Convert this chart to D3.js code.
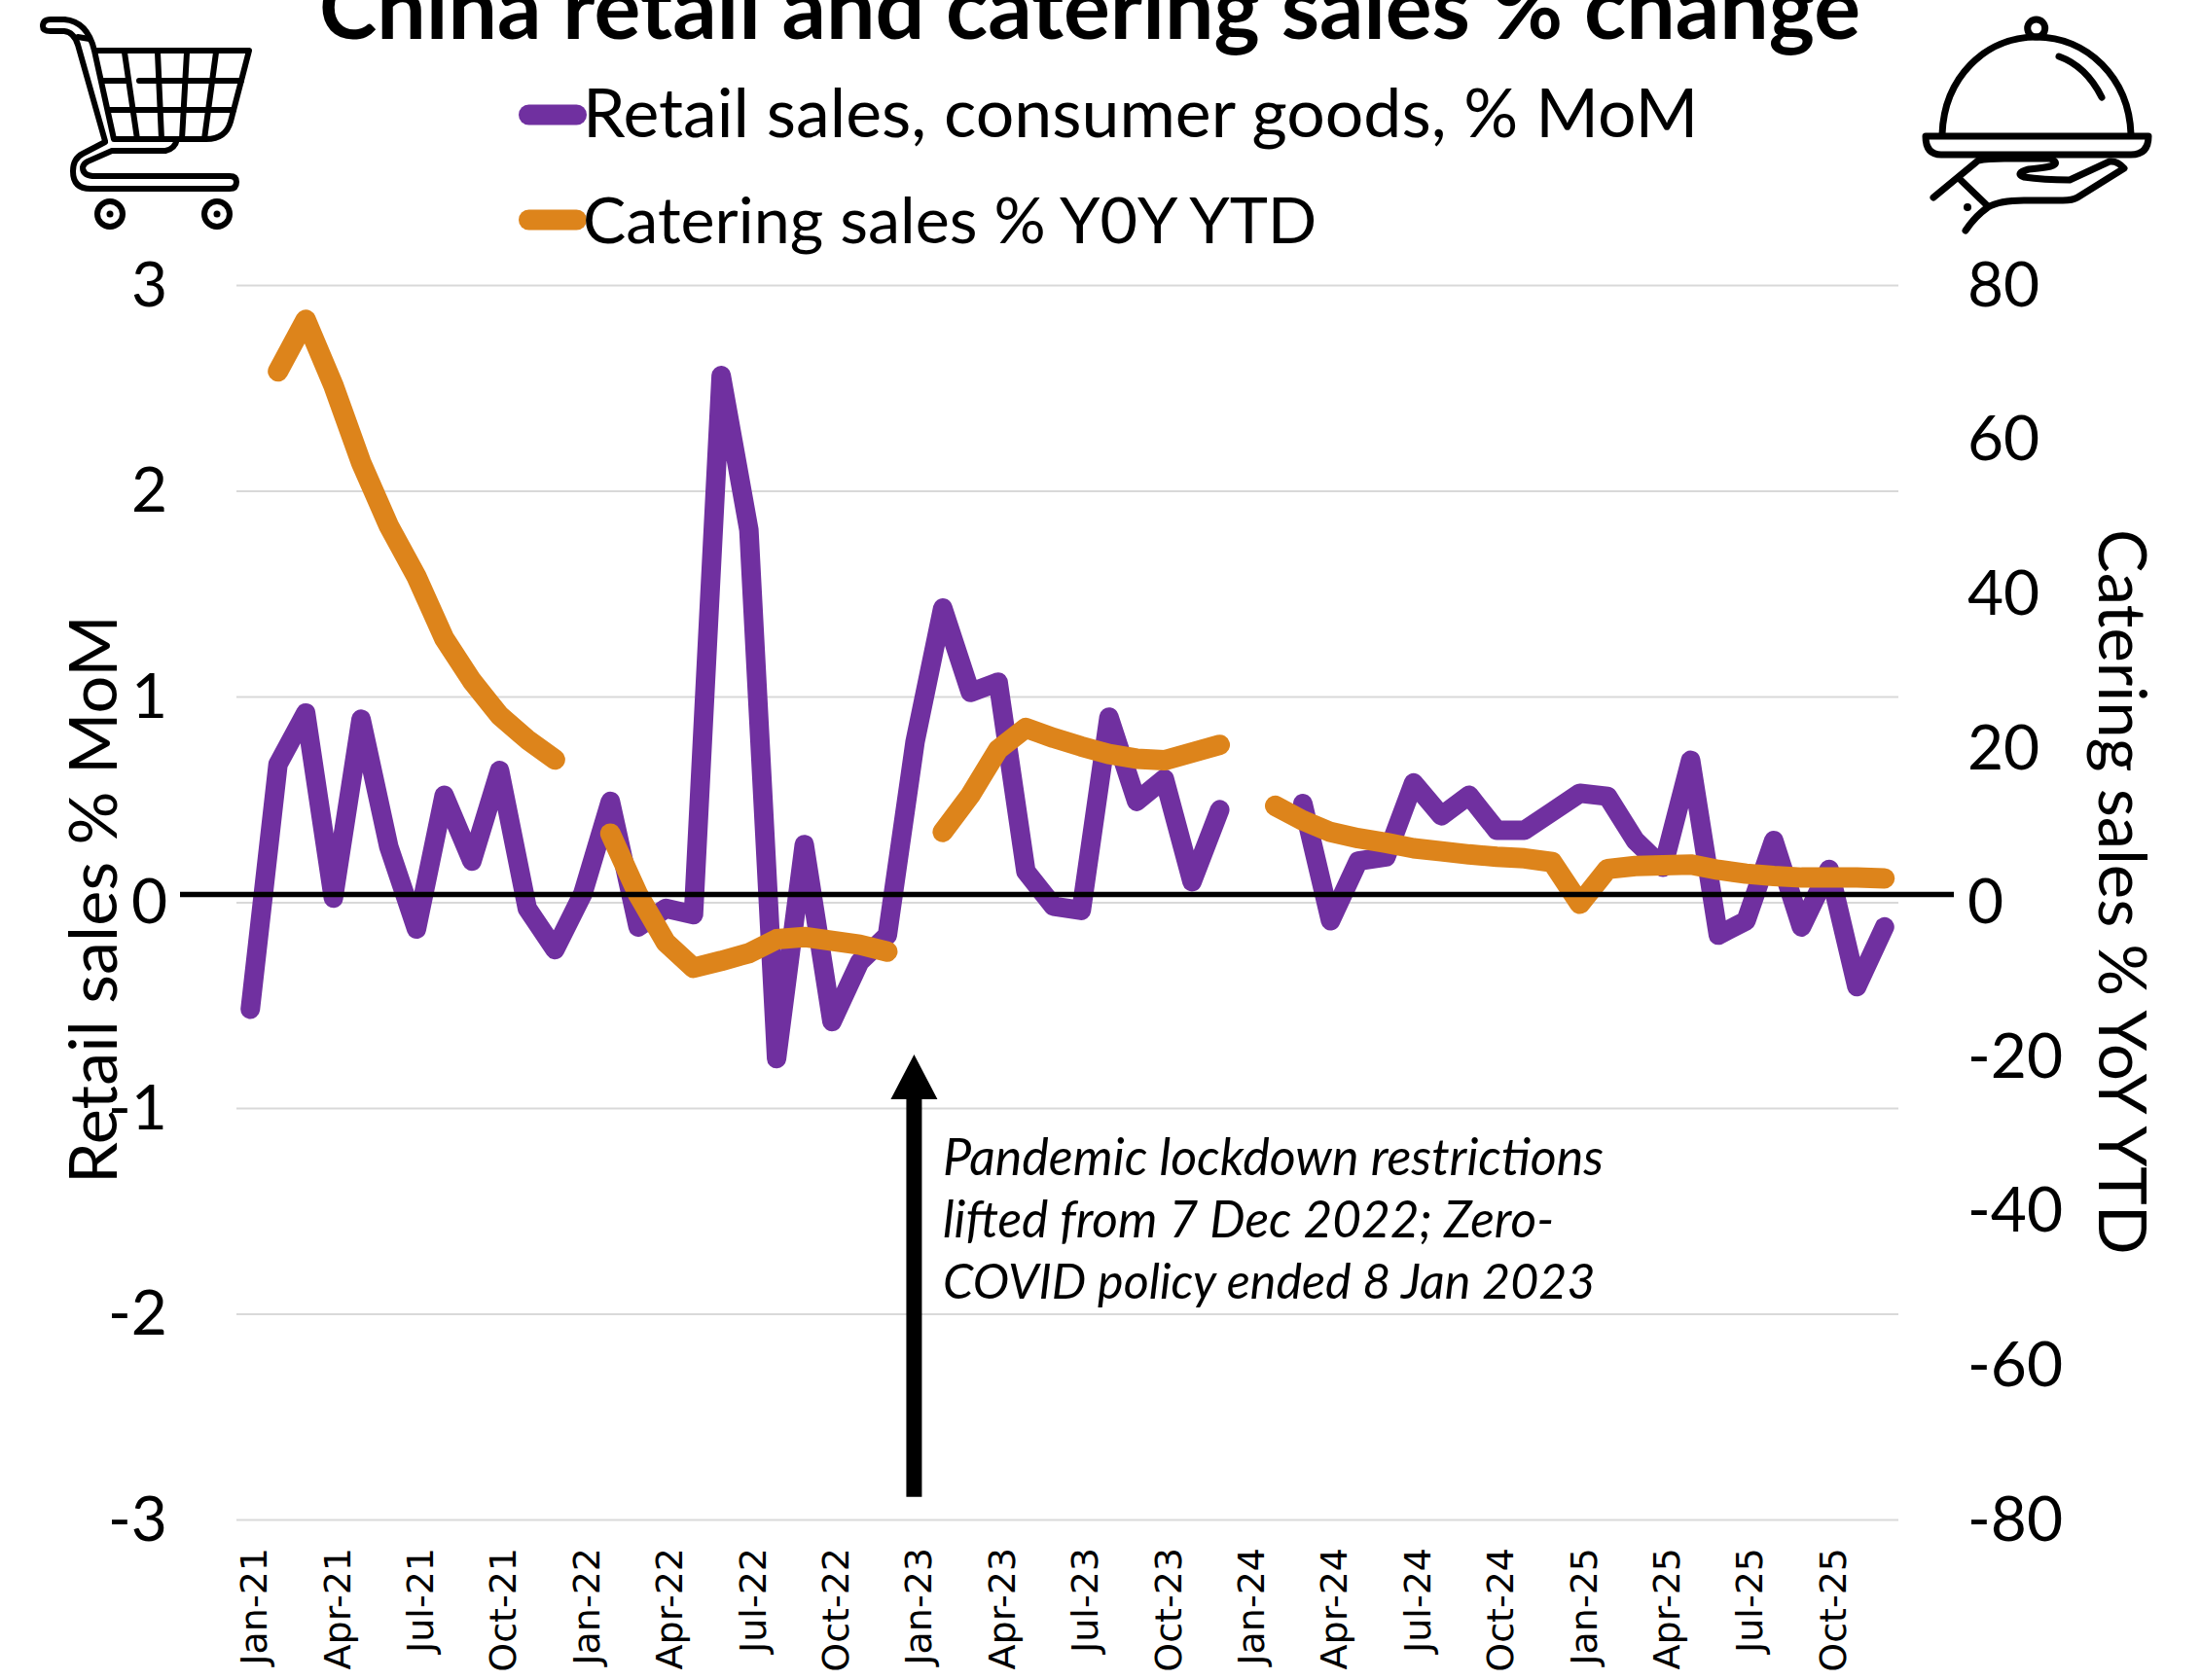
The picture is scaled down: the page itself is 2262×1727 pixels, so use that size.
<!DOCTYPE html>
<html><head><meta charset="utf-8">
<script src="https://cdn.jsdelivr.net/npm/d3@7"></script>
<style>html,body{margin:0;padding:0;background:#fff}svg{display:block}text{fill:#000}</style>
</head><body><div id="c"></div>
<script>
const years = [21,22,23,24,25];
const monthNames = ["Jan","Feb","Mar","Apr","May","Jun","Jul","Aug","Sep","Oct","Nov","Dec"];
const months = years.flatMap(y => monthNames.map(m => `${m}-${y}`));
const tickMonths = months.filter((m,i) => i % 3 === 0);
const retailMoM = [-0.52,0.67,0.92,0.02,0.89,0.27,-0.13,0.52,0.20,0.64,-0.03,-0.23,
  0.04,0.49,-0.12,-0.03,-0.06,2.56,1.81,-0.76,0.28,-0.58,-0.29,-0.16,
  0.78,1.43,1.02,1.07,0.15,-0.02,-0.04,0.90,0.49,0.60,0.10,0.45,
  null,null,0.48,-0.09,0.20,0.22,0.58,0.42,0.52,0.35,0.35,0.44,
  0.53,0.515,0.30,0.17,0.69,-0.16,-0.09,0.30,-0.12,0.16,-0.41,-0.12];
const cateringYoY = [null,68.8,75.5,67,57,48.8,42.2,34.2,28.7,24.2,21.1,18.5,
  null,8.9,1.0,-5.2,-8.5,-7.6,-6.6,-4.8,-4.5,-5.0,-5.5,-6.4,
  null,9.1,13.9,19.8,22.6,21.3,20.2,19.2,18.6,18.4,19.4,20.4,
  null,12.5,10.6,9.1,8.3,7.7,7.0,6.6,6.2,5.9,5.7,5.2,
  -0.2,4.3,4.7,4.8,4.9,4.2,3.7,3.4,3.2,3.2,3.2,3.1];
const leftTicks = [3,2,1,0,-1,-2,-3];
const rightTicks = [80,60,40,20,0,-20,-40,-60,-80];
const titleText = "China retail and catering sales % change";
const legendLabels = ["Retail sales, consumer goods, % MoM","Catering sales % Y0Y YTD"];
const noteLines = ["Pandemic lockdown restrictions","lifted from 7 Dec 2022; Zero-","COVID policy ended 8 Jan 2023"];
const PURPLE="#7030A0", ORANGE="#DD841B", FONT="Lato, Carlito, sans-serif";

const W=2262,H=1727, L=243,R=1951,T=293,B=1562;
const svg=d3.select("#c").append("svg").attr("width",W).attr("height",H).attr("viewBox",`0 0 ${W} ${H}`);
const x=d3.scaleBand().domain(months).range([L,R]);
const cx=m=>x(m)+x.bandwidth()/2;
const yL=d3.scaleLinear().domain([-3,3]).range([B,T]);
const yR=d3.scaleLinear().domain([-80,80]).range([B,T]);

// left axis + grid
const gl=svg.append("g").attr("transform",`translate(${L},0)`)
  .call(d3.axisLeft(yL).tickValues(leftTicks).tickSize(-(R-L)).tickPadding(71).tickFormat(d3.format("d")));
gl.select(".domain").remove();
gl.selectAll("line").attr("stroke","#d9d9d9").attr("stroke-width",2);
gl.selectAll("text").attr("font-family",FONT).attr("font-size",64).attr("dy","0.33em").text(d=>String(d));
// right axis
const gr=svg.append("g").attr("transform",`translate(${R},0)`)
  .call(d3.axisRight(yR).tickValues(rightTicks).tickSize(0).tickPadding(71).tickFormat(d3.format("d")));
gr.select(".domain").remove();
gr.selectAll("text").attr("font-family",FONT).attr("font-size",64).attr("dy","0.33em").text(d=>String(d));
// x axis
const gx=svg.append("g").attr("transform",`translate(0,${B})`)
  .call(d3.axisBottom(x).tickValues(tickMonths).tickSize(0));
gx.select(".domain").remove();
gx.selectAll("text").attr("font-family","'DejaVu Sans'").attr("font-size",38)
  .attr("text-anchor","end").attr("dy",0).attr("y",0)
  .attr("transform","translate(17,29) rotate(-90)");

// series
const lineL=d3.line().defined(d=>d.v!=null).x(d=>cx(d.m)).y(d=>yL(d.v));
const lineR=d3.line().defined(d=>d.v!=null).x(d=>cx(d.m)).y(d=>yR(d.v));
const rows=a=>a.map((v,i)=>({m:months[i],v}));
svg.append("path").attr("d",lineL(rows(retailMoM))).attr("fill","none").attr("stroke",PURPLE)
  .attr("stroke-width",20).attr("stroke-linecap","round").attr("stroke-linejoin","round");
svg.append("path").attr("d",lineR(rows(cateringYoY))).attr("fill","none").attr("stroke",ORANGE)
  .attr("stroke-width",21).attr("stroke-linecap","round").attr("stroke-linejoin","round");
// zero line (sits slightly above the 0 gridline in the source)
svg.append("line").attr("x1",185).attr("x2",2008).attr("y1",919.5).attr("y2",919.5)
  .attr("stroke","#000").attr("stroke-width",5.5);

// title
svg.append("text").attr("x",1120).attr("y",40).attr("text-anchor","middle")
  .attr("font-family",FONT).attr("font-weight",700).attr("font-size",89.6).text(titleText);
// legend
[[legendLabels[0],PURPLE,118,141,69.8],[legendLabels[1],ORANGE,226,250,66.4]].forEach(([t,c,yc,yb,fs])=>{
  svg.append("rect").attr("x",533).attr("y",yc-10.5).attr("width",70).attr("height",21).attr("rx",10.5).attr("fill",c);
  svg.append("text").attr("x",599).attr("y",yb).attr("font-family",FONT).attr("font-size",fs).text(t);
});
// axis titles
svg.append("text").attr("transform","translate(120,1217) rotate(-90)")
  .attr("font-family",FONT).attr("font-size",68.5).text("Retail sales % MoM");
svg.append("text").attr("transform","translate(2157,544) rotate(90)")
  .attr("font-family",FONT).attr("font-size",67).text("Catering sales % YoY YTD");
// annotation
const ax=cx("Jan-23")-1, tip=yL(-0.74);
svg.append("path").attr("fill","#000").attr("d",
  `M${ax},${tip}L${ax+24},${tip+46}H${ax+8}V${yL(-2.89)}H${ax-8}V${tip+46}H${ax-24}Z`);
noteLines.forEach((t,i)=>svg.append("text").attr("x",969).attr("y",[1208,1272,1335][i])
  .attr("font-family",FONT).attr("font-style","italic").attr("font-size",[52,51.4,50.2][i]).text(t));

// icons
const cart=svg.append("g").attr("fill","none").attr("stroke","#000").attr("stroke-width",6)
  .attr("stroke-linecap","round").attr("stroke-linejoin","round");
["M66,20 H52 Q44,20 44,27 Q44,32 52,32 H66 Q76,33 80,46 L108,145",
 "M66,20 Q90,22 97,52 L117,143 H212 Q232,143 237,125 L256,52 H97",
 "M80,38 L92,40",
 "M105,83 H130 M143,83 H248 M112,113 H240",
 "M128,54 L141,143 M162,54 L166,143 M192,54 L187,143 M222,54 L210,143",
 "M108,146 L85,158 Q75,163 75,176 Q75,194 93,194 H236 Q243,194 243,187 Q243,181 236,181 H95 Q85,180 85,172 Q86,168 90,166 L115,155 H170 Q180,153 182,143"
].forEach(d=>cart.append("path").attr("d",d));
[113,223].forEach(cxx=>{
  cart.append("circle").attr("cx",cxx).attr("cy",220).attr("r",13);
  cart.append("circle").attr("cx",cxx).attr("cy",220).attr("r",3.5).attr("fill","#000").attr("stroke","none");
});
const dome=svg.append("g").attr("fill","none").attr("stroke","#000").attr("stroke-width",7)
  .attr("stroke-linecap","round").attr("stroke-linejoin","round");
dome.append("circle").attr("cx",2092.7).attr("cy",29).attr("r",9);
["M1996,138 C1998,80 2040,38 2092.7,38 C2145,38 2188,80 2190,138",
 "M2116,58 Q2144,68 2160,100",
 "M1979,140 H2208 Q2208,159 2190,159 H1995 Q1979,159 1979,140",
 "M1987,203 L2033,165 Q2043,163 2060,163 H2107 Q2116,167 2110,170 Q2106,172 2085,174 Q2070,178 2080,182 Q2100,185 2127,185 L2168,166 Q2176,165 2183,173 L2135,203 Q2130,206 2120,206 H2080 Q2055,206 2043,213 Q2030,222 2020,237",
 "M2015,185 L2043,212"
].forEach(d=>dome.append("path").attr("d",d));
dome.append("circle").attr("cx",2022).attr("cy",213).attr("r",4).attr("fill","#000").attr("stroke","none");
</script></body></html>
